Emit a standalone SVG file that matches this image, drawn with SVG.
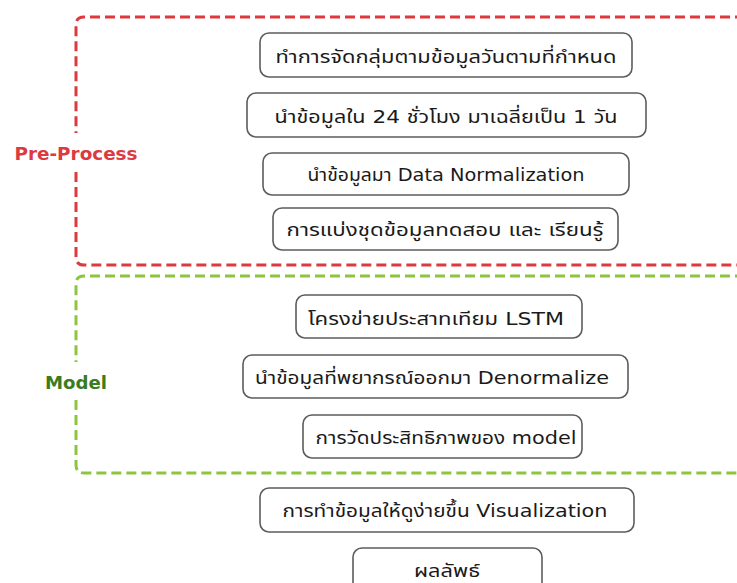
<svg xmlns="http://www.w3.org/2000/svg" width="737" height="583" viewBox="0 0 737 583">
  <style>
    .bg { fill: #ffffff; }
    .frame { fill: none; stroke-width: 3; stroke-dasharray: 10 5; stroke-linecap: butt; }
    .pre { stroke: #dc3a3f; }
    .mdl { stroke: #8cc63e; }
    .lbl { font-family: "DejaVu Sans", "Noto Sans", sans-serif; font-weight: bold; font-size: 18px; text-anchor: middle; }
    .box { fill: #ffffff; stroke: #5c5c5c; stroke-width: 1.6; }
    .txt { font-family: "Tahoma", "DejaVu Sans", "Noto Sans Thai", "Noto Sans", sans-serif; font-size: 18px; fill: #1a1a1a; text-anchor: middle; }
  </style>
  <rect class="bg" x="0" y="0" width="737" height="583"/>

  <!-- group frames -->
  <g id="connectors">
    <path class="frame pre" d="M 745 17 H 84 Q 76 17 76 25 V 133 M 76 172 V 257 Q 76 265 84 265 H 745"/>
    <path class="frame mdl" d="M 745 276 H 84 Q 76 276 76 284 V 362 M 76 400 V 465 Q 76 473 84 473 H 745"/>
  </g>

  <g id="label-preprocess">
    <text class="lbl" x="76" y="160" fill="#dc3a3f" textLength="123" lengthAdjust="spacingAndGlyphs">Pre-Process</text>
  </g>
  <g id="label-model">
    <text class="lbl" x="76" y="389" fill="#3b7b22" font-size="20" textLength="62" lengthAdjust="spacingAndGlyphs">Model</text>
  </g>

  <!-- pre-process steps -->
  <g id="n1">
    <rect class="box" x="260" y="33" width="372" height="44" rx="9"/>
    <text class="txt" x="446" y="63" textLength="341" lengthAdjust="spacingAndGlyphs">ทำการจัดกลุ่มตามข้อมูลวันตามที่กำหนด</text>
  </g>
  <g id="n2">
    <rect class="box" x="247" y="93" width="399" height="44" rx="9"/>
    <text class="txt" x="446" y="123" textLength="343" lengthAdjust="spacingAndGlyphs">นำข้อมูลใน 24 ชั่วโมง มาเฉลี่ยเป็น 1 วัน</text>
  </g>
  <g id="n3">
    <rect class="box" x="263" y="153" width="366" height="42" rx="9"/>
    <text class="txt" x="446" y="181" textLength="277" lengthAdjust="spacingAndGlyphs">นำข้อมูลมา Data Normalization</text>
  </g>
  <g id="n4">
    <rect class="box" x="273" y="208" width="345" height="42" rx="9"/>
    <text class="txt" x="445" y="236" textLength="317" lengthAdjust="spacingAndGlyphs">การแบ่งชุดข้อมูลทดสอบ และ เรียนรู้</text>
  </g>

  <!-- model steps -->
  <g id="n5">
    <rect class="box" x="296" y="295" width="286" height="43" rx="9"/>
    <text class="txt" x="436" y="325" textLength="256" lengthAdjust="spacingAndGlyphs">โครงข่ายประสาทเทียม LSTM</text>
  </g>
  <g id="n6">
    <rect class="box" x="243" y="355" width="385" height="43" rx="9"/>
    <text class="txt" x="432" y="384" textLength="354" lengthAdjust="spacingAndGlyphs">นำข้อมูลที่พยากรณ์ออกมา Denormalize</text>
  </g>
  <g id="n7">
    <rect class="box" x="303" y="415" width="279" height="43" rx="9"/>
    <text class="txt" x="446" y="444" textLength="261" lengthAdjust="spacingAndGlyphs">การวัดประสิทธิภาพของ model</text>
  </g>

  <!-- output steps -->
  <g id="n8">
    <rect class="box" x="260" y="488" width="374" height="44" rx="9"/>
    <text class="txt" x="445" y="517" textLength="325" lengthAdjust="spacingAndGlyphs">การทำข้อมูลให้ดูง่ายขึ้น Visualization</text>
  </g>
  <g id="n9">
    <rect class="box" x="353" y="548" width="189" height="50" rx="9"/>
    <text class="txt" x="447" y="577" textLength="66" lengthAdjust="spacingAndGlyphs">ผลลัพธ์</text>
  </g>
</svg>
